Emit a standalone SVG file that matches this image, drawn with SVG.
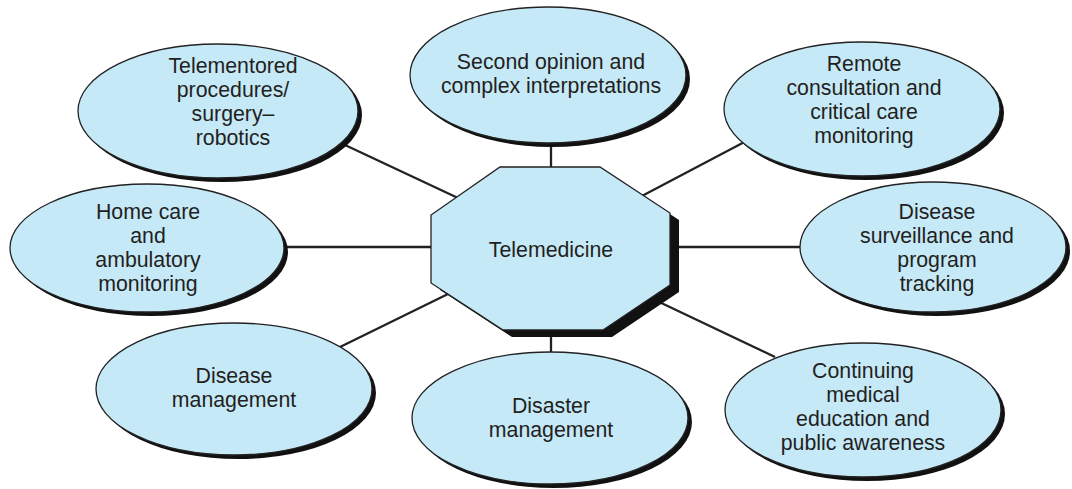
<svg xmlns="http://www.w3.org/2000/svg" width="1072" height="489" viewBox="0 0 1072 489">
<style>
.sh{fill:#111;}
.nd{fill:#c6e9f8;stroke:#222;stroke-width:1.3;}
.t{font-family:"Liberation Sans",Arial,sans-serif;font-size:21.3px;fill:#231f20;text-anchor:middle;}
.c{stroke:#222;stroke-width:2.3;fill:none;}
</style>
<rect width="1072" height="489" fill="#fff"/>
<g id="connectors">
<line class="c" x1="551" y1="140" x2="551" y2="168"/>
<line class="c" x1="345" y1="145" x2="458" y2="198"/>
<line class="c" x1="752" y1="138" x2="640" y2="197"/>
<line class="c" x1="280" y1="247" x2="432" y2="247"/>
<line class="c" x1="675" y1="247" x2="802" y2="247"/>
<line class="c" x1="340" y1="347" x2="448" y2="294"/>
<line class="c" x1="551" y1="330" x2="551" y2="356"/>
<line class="c" x1="655" y1="300" x2="775" y2="357"/>
</g>
<g id="telemedicine">
<polygon class="sh" points="509,174 609,174 679,220 679,292 612,337 512,337 440,290 440,222"/>
<polygon class="nd" points="500,167 600,167 670,213 670,285 603,330 503,330 431,283 431,215"/>
<text class="t" x="551" y="257">Telemedicine</text>
</g>
<g id="telementored">
<ellipse class="sh" cx="222" cy="115" rx="140" ry="67"/>
<ellipse class="nd" cx="218" cy="111" rx="140" ry="67"/>
<text class="t" x="233" y="73">Telementored</text>
<text class="t" x="233" y="97">procedures/</text>
<text class="t" x="233" y="121">surgery–</text>
<text class="t" x="233" y="145">robotics</text>
</g>
<g id="second-opinion">
<ellipse class="sh" cx="552" cy="79" rx="138" ry="68"/>
<ellipse class="nd" cx="548" cy="75" rx="138" ry="68"/>
<text class="t" x="551" y="69">Second opinion and</text>
<text class="t" x="551" y="93">complex interpretations</text>
</g>
<g id="remote-consultation">
<ellipse class="sh" cx="866" cy="113" rx="138" ry="67"/>
<ellipse class="nd" cx="862" cy="109" rx="138" ry="67"/>
<text class="t" x="864" y="71">Remote</text>
<text class="t" x="864" y="95">consultation and</text>
<text class="t" x="864" y="119">critical care</text>
<text class="t" x="864" y="143">monitoring</text>
</g>
<g id="home-care">
<ellipse class="sh" cx="151" cy="252" rx="137" ry="64"/>
<ellipse class="nd" cx="147" cy="248" rx="137" ry="64"/>
<text class="t" x="148" y="219">Home care</text>
<text class="t" x="148" y="243">and</text>
<text class="t" x="148" y="267">ambulatory</text>
<text class="t" x="148" y="291">monitoring</text>
</g>
<g id="disease-surveillance">
<ellipse class="sh" cx="937" cy="251" rx="133" ry="65"/>
<ellipse class="nd" cx="933" cy="247" rx="133" ry="65"/>
<text class="t" x="937" y="219">Disease</text>
<text class="t" x="937" y="243">surveillance and</text>
<text class="t" x="937" y="267">program</text>
<text class="t" x="937" y="291">tracking</text>
</g>
<g id="disease-management">
<ellipse class="sh" cx="238" cy="393" rx="138" ry="66"/>
<ellipse class="nd" cx="234" cy="389" rx="138" ry="66"/>
<text class="t" x="234" y="383">Disease</text>
<text class="t" x="234" y="407">management</text>
</g>
<g id="disaster-management">
<ellipse class="sh" cx="554" cy="422" rx="138" ry="66"/>
<ellipse class="nd" cx="550" cy="418" rx="138" ry="66"/>
<text class="t" x="551" y="413">Disaster</text>
<text class="t" x="551" y="437">management</text>
</g>
<g id="continuing-education">
<ellipse class="sh" cx="867" cy="414" rx="138" ry="67"/>
<ellipse class="nd" cx="863" cy="410" rx="138" ry="67"/>
<text class="t" x="863" y="378">Continuing</text>
<text class="t" x="863" y="402">medical</text>
<text class="t" x="863" y="426">education and</text>
<text class="t" x="863" y="450">public awareness</text>
</g>
</svg>
